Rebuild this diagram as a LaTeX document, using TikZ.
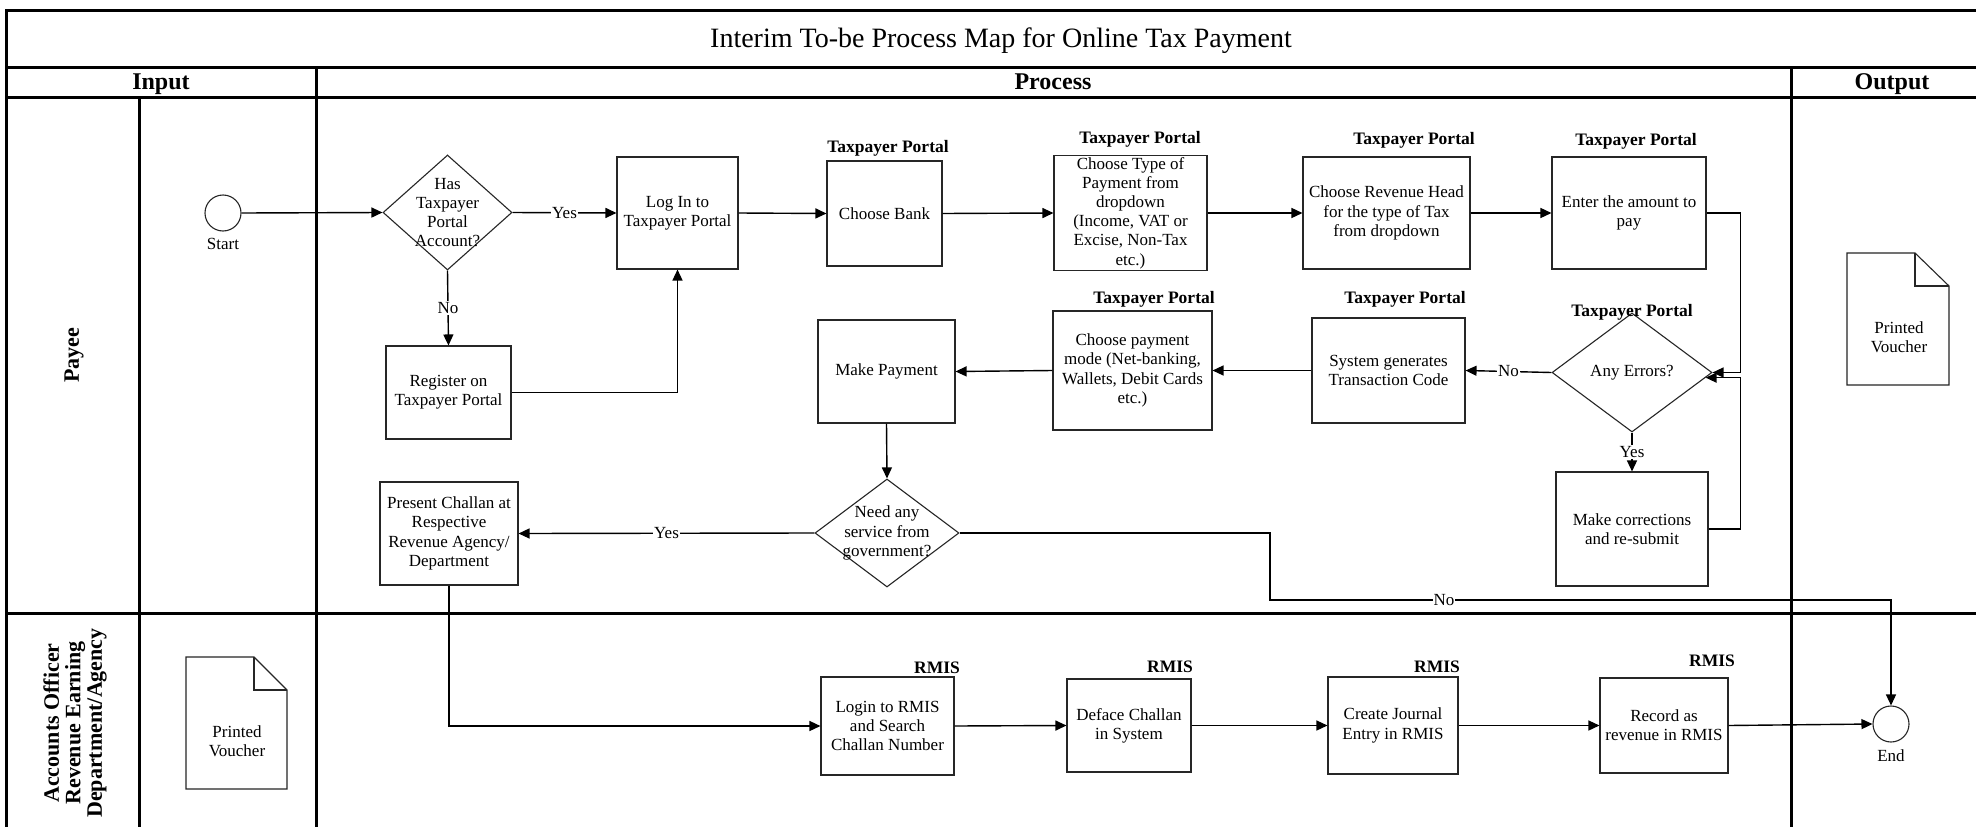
\documentclass[tikz,border=0pt]{standalone}
\usepackage{fontspec}
\setmainfont{Liberation Serif}
\usetikzlibrary{shapes.geometric,arrows.meta}

\newcommand{\bodyfs}{\fontsize{17pt}{19.2pt}\selectfont}
\newcommand{\tagfs}{\fontsize{17.5pt}{20pt}\selectfont\bfseries}
\newcommand{\headfs}{\fontsize{24pt}{26pt}\selectfont\bfseries}
\newcommand{\lanefs}{\fontsize{22pt}{21.5pt}\selectfont\bfseries}
\newcommand{\titlefs}{\fontsize{28pt}{32pt}\selectfont}

\begin{document}
\begin{tikzpicture}[x=1pt,y=-1pt,
  lane/.style={line width=3pt, line cap=rect},
  box/.style={draw=black!85, line width=1.1pt, rectangle, align=center, inner sep=2pt, font=\bodyfs},
  dia/.style={draw=black!85, line width=1.1pt, diamond, inner sep=0pt},
  dtext/.style={align=center, font=\bodyfs},
  term/.style={draw=black!85, line width=1.1pt, circle, minimum size=36pt, inner sep=0pt},
  txt/.style={align=center, font=\bodyfs, inner sep=1pt},
  tag/.style={font=\tagfs, inner sep=1pt},
  docline/.style={draw=black!85, line width=1.1pt, line join=miter},
  conn/.style={line width=1.4pt, -{Triangle[length=11pt,width=10pt]}},
  flowlbl/.style={fill=white, inner sep=1pt, font=\bodyfs}
]
\useasboundingbox (0,0) rectangle (1976,827);
\fill[white] (0,0) rectangle (1976,827);
\clip (0,0) rectangle (1976,827);

% swimlane grid
\draw[lane] (6,830) -- (6,10) -- (1990,10);
\draw[lane] (6,67) -- (1990,67);
\draw[lane] (6,97) -- (1990,97);
\draw[lane] (6,613) -- (1990,613);
\draw[lane] (139,97) -- (139,830);
\draw[lane] (316,67) -- (316,830);
\draw[lane] (1791,67) -- (1791,830);

% title and column headers
\node[font=\titlefs, anchor=base] (title) at (1001,47) {Interim To-be Process Map for Online Tax Payment};
\node[font=\headfs, anchor=base] (hin) at (161,89) {Input};
\node[font=\headfs, anchor=base] (hproc) at (1053,89) {Process};
\node[font=\headfs, anchor=base] (hout) at (1892,89) {Output};

% lane names
\node[font=\lanefs, rotate=90] (payee) at (74,355) {Payee};
\node[font=\lanefs, rotate=90, align=center] (acct) at (75,723) {Accounts Officer\\Revenue Earning\\Department/Agency};

% payee lane
\node[term] (start) at (223,213) {};
\node[txt] (startlbl) at (223,244) {Start};

\node[dia, minimum width=129pt, minimum height=115pt,
      label={[dtext]center:Has\\Taxpayer\\Portal\\Account?}] (has) at (447.5,212.5) {};
\node[box, minimum width=121pt, minimum height=112pt] (login) at (677.5,213) {Log In to\\Taxpayer Portal};
\node[box, minimum width=125pt, minimum height=93pt] (reg) at (448.5,392.5) {Register on\\Taxpayer Portal};

\node[box, minimum width=115pt, minimum height=105pt] (bank) at (884.5,213.5) {Choose Bank};
\node[tag] (tpbank) at (888,148) {Taxpayer Portal};

\node[box, minimum width=153pt, minimum height=112pt] (ctype) at (1130.5,213) {Choose Type of\\Payment from\\dropdown\\(Income, VAT or\\Excise, Non-Tax\\etc.)};
\node[tag] (tpctype) at (1140,139) {Taxpayer Portal};

\node[box, minimum width=167pt, minimum height=112pt] (rhead) at (1386.5,213) {Choose Revenue Head\\for the type of Tax\\from dropdown};
\node[tag] (tprhead) at (1414,140) {Taxpayer Portal};

\node[box, minimum width=154pt, minimum height=112pt] (amount) at (1629,213) {Enter the amount to\\pay};
\node[tag] (tpamount) at (1636,141) {Taxpayer Portal};

\node[dia, minimum width=160pt, minimum height=119pt,
      label={[dtext]center:Any Errors?}] (errors) at (1632,372.5) {};
\node[tag] (tperrors) at (1632,312) {Taxpayer Portal};

\node[box, minimum width=152pt, minimum height=114pt] (fix) at (1632,529) {Make corrections\\and re-submit};

\node[box, minimum width=153pt, minimum height=105pt] (sys) at (1388.5,370.5) {System generates\\Transaction Code};
\node[tag] (tpsys) at (1405,299) {Taxpayer Portal};

\node[box, minimum width=159pt, minimum height=119pt] (mode) at (1132.5,370.5) {Choose payment\\mode (Net-banking,\\Wallets, Debit Cards\\etc.)};
\node[tag] (tpmode) at (1154,299) {Taxpayer Portal};

\node[box, minimum width=137pt, minimum height=103pt] (pay) at (886.5,371.5) {Make Payment};

\node[dia, minimum width=144pt, minimum height=108pt,
      label={[dtext]center:Need any\\service from\\government?}] (need) at (887,533) {};

\node[box, minimum width=138pt, minimum height=103pt] (challan) at (449,533.5) {Present Challan at\\Respective\\Revenue Agency/\\Department};

% printed voucher in the output column
\draw[docline] (1847,385) -- (1847,253) -- (1915,253) -- (1949,286) -- (1949,385) -- cycle;
\draw[docline] (1915,253) -- (1915,286) -- (1949,286);
\node[txt] (vout) at (1899,337) {Printed\\Voucher};

% accounts officer lane
\draw[docline] (186,789) -- (186,657) -- (254,657) -- (287,690) -- (287,789) -- cycle;
\draw[docline] (254,657) -- (254,690) -- (287,690);
\node[txt] (vin) at (237,741.5) {Printed\\Voucher};

\node[box, minimum width=133pt, minimum height=98pt] (rlogin) at (887.5,726) {Login to RMIS\\and Search\\Challan Number};
\node[tag] (rmlogin) at (937,668) {RMIS};

\node[box, minimum width=124pt, minimum height=93pt] (deface) at (1129,725.5) {Deface Challan\\in System};
\node[tag] (rmdeface) at (1170,667) {RMIS};

\node[box, minimum width=130pt, minimum height=97pt] (journal) at (1393,725.5) {Create Journal\\Entry in RMIS};
\node[tag] (rmjournal) at (1437,667) {RMIS};

\node[box, minimum width=128pt, minimum height=95pt] (record) at (1664,725.5) {Record as\\revenue in RMIS};
\node[tag] (rmrecord) at (1712,661) {RMIS};

\node[term] (end) at (1891,724) {};
\node[txt] (endlbl) at (1891,756) {End};

% connectors
\draw[conn] (start.east) -- (has.west);
\draw[conn] (has.east) -- node[flowlbl] (lyes1) {Yes} (login.west);
\draw[conn] (has.south) -- node[flowlbl] (lno1) {No} (reg.north);
\draw[conn] (reg.east) -| (login.south);
\draw[conn] (login.east) -- (bank.west);
\draw[conn] (bank.east) -- (ctype.west);
\draw[conn] (ctype.east) -- (rhead.west);
\draw[conn] (rhead.east) -- (amount.west);
\draw[conn] (amount.east) -- ++(34pt,0) |- (errors.east);
\draw[conn] (fix.east) -- ++(32pt,0) |- (errors.-4);
\draw[conn] (errors.west) -- node[flowlbl] (lno2) {No} (sys.east);
\draw[conn] (errors.south) -- node[flowlbl] (lyes2) {Yes} (fix.north);
\draw[conn] (sys.west) -- (mode.east);
\draw[conn] (mode.west) -- (pay.east);
\draw[conn] (pay.south) -- (need.north);
\draw[conn] (need.west) -- node[flowlbl] (lyes3) {Yes} (challan.east);
\coordinate (nobend) at (1270,600);
\draw[conn] (need.east) -| (nobend) -| node[flowlbl, pos=0.14] (lno3) {No} (end.north);
\draw[conn] (challan.south) |- (rlogin.west);
\draw[conn] (rlogin.east) -- (deface.west);
\draw[conn] (deface.east) -- (journal.west);
\draw[conn] (journal.east) -- (record.west);
\draw[conn] (record.east) -- (end.west);
\end{tikzpicture}
\end{document}
